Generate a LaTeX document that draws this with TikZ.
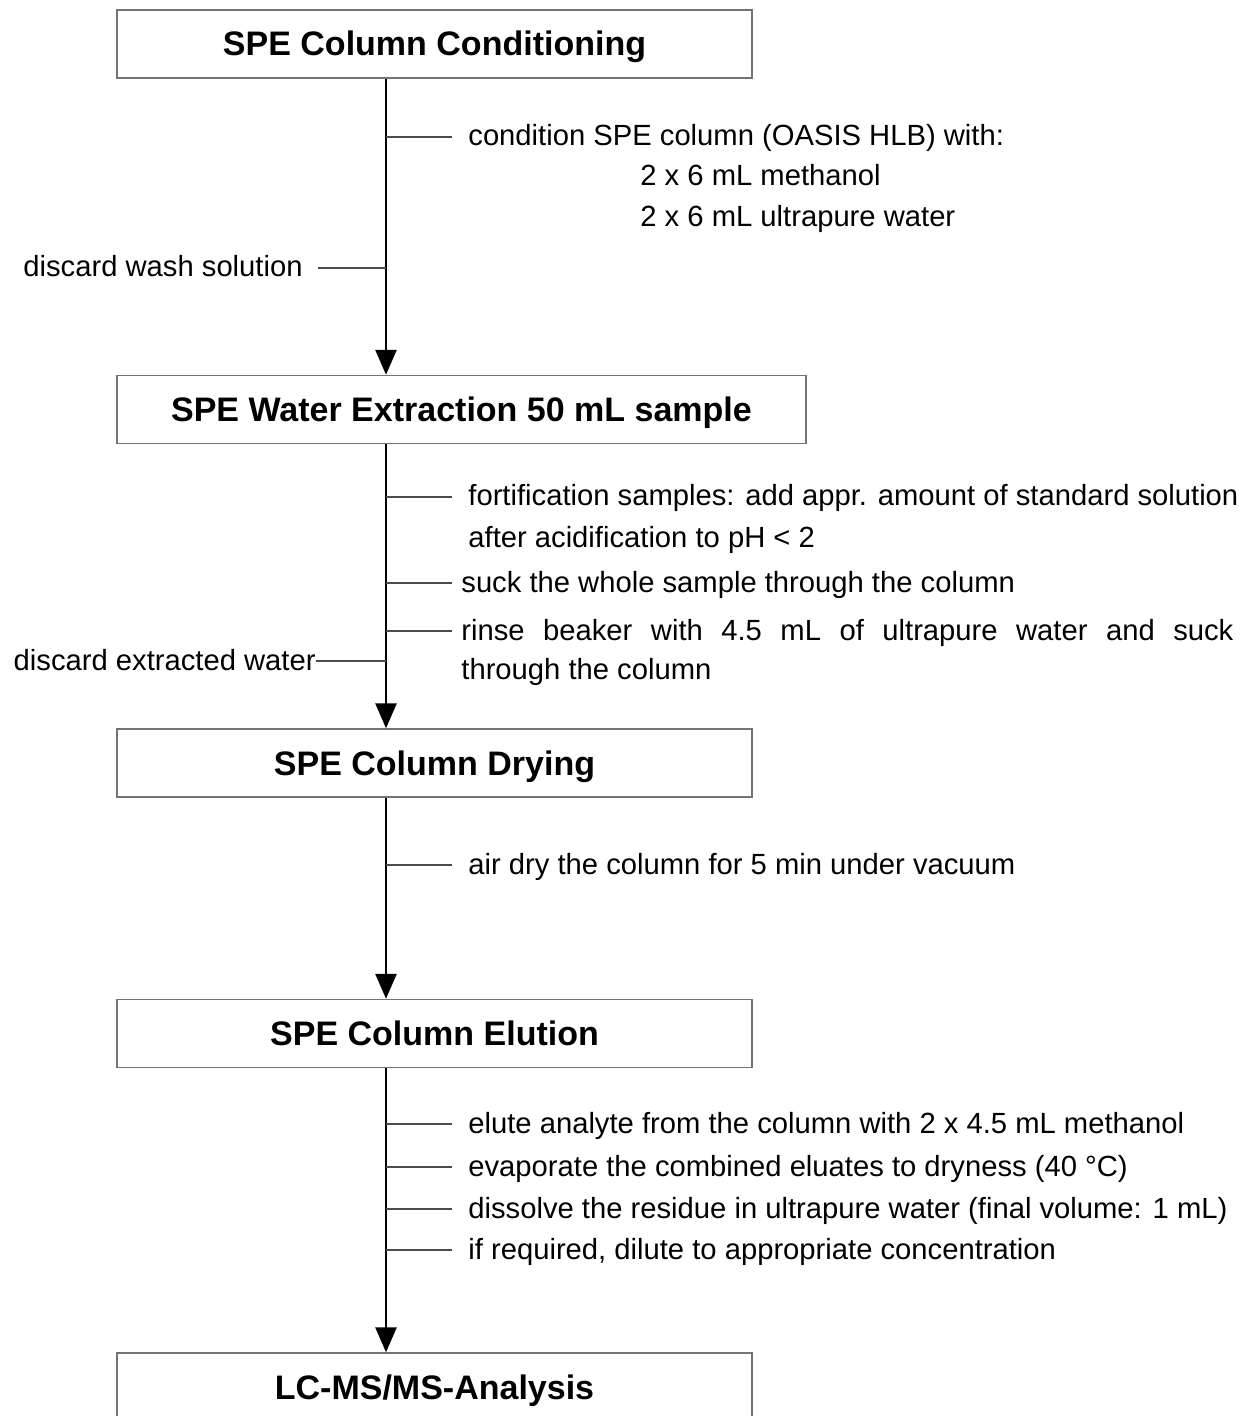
\documentclass[tikz,border=0pt]{standalone}
\usepackage{fontspec}
\setmainfont{Liberation Sans}
\usetikzlibrary{arrows.meta}

\begin{document}
\begin{tikzpicture}[x=.5pt, y=-.5pt,
		paso/.style={draw=black!55, line width=.7pt, minimum height=34pt, inner sep=0pt, text height=12pt, text depth=0pt, font=\fontsize{17}{20}\selectfont\bfseries},
		nota/.style={anchor=west, inner sep=0pt, text height=10pt, text depth=1pt, font=\fontsize{14.6}{17}\selectfont},
		flecha/.style={line width=1.3pt, -{Triangle[length=12.5pt, width=10.5pt]}},
		raya/.style={draw=black!70, line width=.7pt}]
		\useasboundingbox (0, 0) rectangle (1247, 1416);
		\coordinate (eje) at (386, 0);
		
		% Cajas
		\node[paso, minimum width=317.5pt] (acond) at (434.5, 44) {SPE Column Conditioning};
		\node[paso, minimum width=344.5pt] (extrac) at (461.5, 409.5) {SPE Water Extraction 50 mL sample};
		\node[paso, minimum width=317.5pt] (secado) at (434.5, 763) {SPE Column Drying};
		\node[paso, minimum width=317.5pt] (elucion) at (434.5, 1033.5) {SPE Column Elution};
		\node[paso, minimum width=317.5pt] (analisis) at (434.5, 1387) {LC-MS/MS-Analysis};
		
		% Flechas
		\draw[flecha] (acond.south -| eje) -- (extrac.north -| eje);
		\draw[flecha] (extrac.south -| eje) -- (secado.north -| eje);
		\draw[flecha] (secado.south -| eje) -- (elucion.north -| eje);
		\draw[flecha] (elucion.south -| eje) -- (analisis.north -| eje);
		
		% Acondicionamiento
		\node[nota] (c1) at (468, 137) {condition SPE column (OASIS HLB) with:};
		\node[nota] (c2) at (640, 177) {2 x 6 mL methanol};
		\node[nota] (c3) at (640, 218) {2 x 6 mL ultrapure water};
		\node[nota, anchor=east] (d1) at (303, 268) {discard wash solution};
		\draw[raya] (c1.west -| eje) -- ++(66, 0);
		\draw[raya] (d1.east -| eje) -- ++(-68, 0);
		
		% Extraccion
		\node[nota] (e1) at (468, 497) {fortification samples: add appr. amount of standard solution};
		\node[nota] (e2) at (468, 538) {after acidification to pH < 2};
		\node[nota] (e3) at (461, 583) {suck the whole sample through the column};
		\node[nota] (e4) at (461, 631) {\makebox[386pt][s]{rinse beaker with 4.5 mL of ultrapure water and suck}};
		\node[nota] (e5) at (461, 670) {through the column};
		\node[nota, anchor=east] (d2) at (316, 661) {discard extracted water};
		\draw[raya] (e1.west -| eje) -- ++(66, 0);
		\draw[raya] (e3.west -| eje) -- ++(66, 0);
		\draw[raya] (e4.west -| eje) -- ++(66, 0);
		\draw[raya] (d2.east -| eje) -- (d2.east);
		
		% Secado
		\node[nota] (s1) at (468, 865) {air dry the column for 5 min under vacuum};
		\draw[raya] (s1.west -| eje) -- ++(66, 0);
		
		% Elucion
		\node[nota] (l1) at (468, 1124) {elute analyte from the column with 2 x 4.5 mL methanol};
		\node[nota] (l2) at (468, 1167) {evaporate the combined eluates to dryness (40 °C)};
		\node[nota] (l3) at (468, 1209) {dissolve the residue in ultrapure water (final volume: 1 mL)};
		\node[nota] (l4) at (468, 1250) {if required, dilute to appropriate concentration};
		\draw[raya] (l1.west -| eje) -- ++(66, 0);
		\draw[raya] (l2.west -| eje) -- ++(66, 0);
		\draw[raya] (l3.west -| eje) -- ++(66, 0);
		\draw[raya] (l4.west -| eje) -- ++(66, 0);
	\end{tikzpicture}
\end{document}
